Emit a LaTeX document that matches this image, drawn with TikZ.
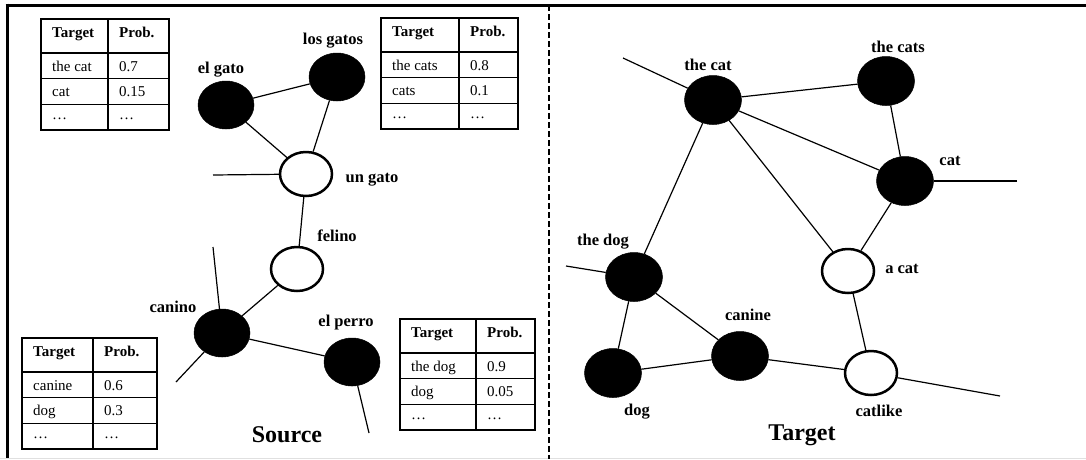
\documentclass[tikz,border=0pt]{standalone}
\usepackage{fontspec}
\setmainfont{Liberation Serif}
\usetikzlibrary{shapes.geometric}
\tikzset{
 full/.style={ellipse,fill=black,draw=black,line width=0.5pt,minimum width=56,minimum height=48,inner sep=0},
 hollow/.style={ellipse,fill=white,draw=black,line width=2.5pt,minimum width=52,minimum height=44,inner sep=0},
 lbl/.style={font=\fontsize{16.5}{20}\selectfont\bfseries,inner sep=0},
 ttl/.style={font=\fontsize{24}{28}\selectfont\bfseries,inner sep=0},
 cell/.style={font=\fontsize{15}{18}\selectfont,anchor=base west,inner sep=0},
 hcell/.style={cell,font=\fontsize{15}{18}\selectfont\bfseries},
 edge/.style={line width=1.2pt},
 grid/.style={line width=1.5pt},
}
\newcommand\ptable[9]{%
 \draw[grid] (#1,#4) rectangle (#3,#4+111);
 \draw[grid] (#2,#4) -- (#2,#4+111)
   (#1,#4+34) -- (#3,#4+34)
   (#1,#4+59.5) -- (#3,#4+59.5)
   (#1,#4+85.5) -- (#3,#4+85.5);
 \node[hcell] (#5a) at (#1+11,#4+18.5) {Target};
 \node[hcell] (#5b) at (#2+11,#4+18.5) {Prob.};
 \node[cell] (#5c) at (#1+11,#4+52.7) {#6};
 \node[cell] (#5d) at (#2+11,#4+52.7) {#7};
 \node[cell] (#5e) at (#1+11,#4+77) {#8};
 \node[cell] (#5f) at (#2+11,#4+77) {#9};
 \node[cell] (#5g) at (#1+11,#4+100.5) {\dots};
 \node[cell] (#5h) at (#2+11,#4+100.5) {\dots};
}
\begin{document}
\begin{tikzpicture}[x=1pt,y=-1pt]
\useasboundingbox (0,0) rectangle (1086,459);
% frame
\draw[line width=3pt] (5.5,5) -- (1086,5);
\draw[line width=3pt] (7,3.5) -- (7,459);
\draw[black!12,line width=1pt] (0,458.3) -- (1086,458.3);
\draw[line width=2pt,dash pattern=on 6pt off 3pt] (548.5,5) -- (548.5,459);
% tables
\ptable{41}{108}{169}{19}{ta}{the cat}{0.7}{cat}{0.15}
\ptable{381}{459}{518}{18}{tb}{the cats}{0.8}{cats}{0.1}
\ptable{22}{93}{157}{338}{tc}{canine}{0.6}{dog}{0.3}
\ptable{400}{476}{535}{319}{td}{the dog}{0.9}{dog}{0.05}
% source graph
\node[full] (elgato) at (226,105) {};
\node[full] (losgatos) at (337,77) {};
\node[hollow] (ungato) at (306,174) {};
\node[hollow] (felino) at (297,269) {};
\node[full] (canino) at (222,333) {};
\node[full] (elperro) at (352,362) {};
\node[lbl] (l1) at (221,70) {el gato};
\node[lbl] (l2) at (333,41) {los gatos};
\node[lbl] (l3) at (372,180) {un gato};
\node[lbl] (l4) at (337,236) {felino};
\node[lbl] (l5) at (173,307) {canino};
\node[lbl] (l6) at (346,323) {el perro};
\coordinate (s1) at (213,175);
\coordinate (s2) at (213,247);
\coordinate (s3) at (176,382);
\coordinate (s4) at (369,433);
\draw[edge] (elgato) -- (losgatos);
\draw[edge] (elgato) -- (ungato);
\draw[edge] (losgatos) -- (ungato);
\draw[edge] (ungato) -- (felino);
\draw[edge] (felino) -- (canino);
\draw[edge] (canino) -- (elperro);
\draw[edge] (s1) -- (ungato);
\draw[edge] (s2) -- (canino);
\draw[edge] (s3) -- (canino);
\draw[edge] (s4) -- (elperro);
\node[ttl] (src) at (287,435) {Source};
% target graph
\node[full,minimum width=57,minimum height=49] (thecat) at (713,100) {};
\node[full,minimum width=57,minimum height=49] (thecats) at (886,81) {};
\node[full,minimum width=57,minimum height=49] (cat) at (905,181) {};
\node[hollow] (acat) at (848,271) {};
\node[full,minimum width=57,minimum height=49] (thedog) at (634,277) {};
\node[full,minimum width=57,minimum height=49] (dog) at (613,373) {};
\node[full,minimum width=57,minimum height=49] (canine) at (740,356) {};
\node[hollow] (catlike) at (871,373) {};
\node[lbl] (m1) at (708,65) {the cat};
\node[lbl] (m2) at (898,47) {the cats};
\node[lbl] (m3) at (950,161) {cat};
\node[lbl] (m4) at (902,269) {a cat};
\node[lbl] (m5) at (603,242) {the dog};
\node[lbl] (m6) at (637,412) {dog};
\node[lbl] (m7) at (748,315) {canine};
\node[lbl] (m8) at (879,411) {catlike};
\coordinate (t1) at (623,58);
\coordinate (t2) at (566,266);
\coordinate (t3) at (1017,181);
\coordinate (t4) at (1000,396);
\draw[edge] (thecat) -- (thecats);
\draw[edge] (thecat) -- (cat);
\draw[edge] (thecat) -- (acat);
\draw[edge] (thecat) -- (thedog);
\draw[edge] (thecats) -- (cat);
\draw[edge] (cat) -- (acat);
\draw[edge] (acat) -- (catlike);
\draw[edge] (thedog) -- (dog);
\draw[edge] (thedog) -- (canine);
\draw[edge] (dog) -- (canine);
\draw[edge] (canine) -- (catlike);
\draw[edge] (t1) -- (thecat);
\draw[edge] (t2) -- (thedog);
\draw[edge] (t3) -- (cat);
\draw[edge] (t4) -- (catlike);
\node[ttl] (tgt) at (802,435) {Target};
\end{tikzpicture}
\end{document}
